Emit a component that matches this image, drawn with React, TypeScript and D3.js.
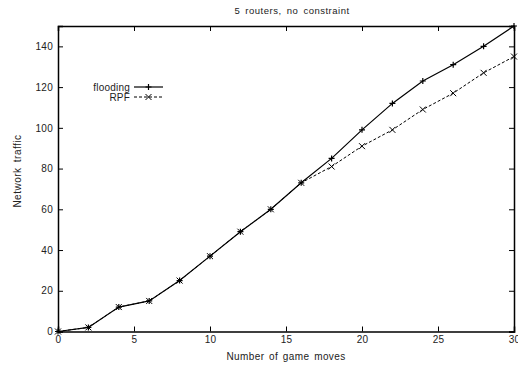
import React, { useEffect, useRef } from 'react'
import * as d3 from 'd3'

const moves = [0, 2, 4, 6, 8, 10, 12, 14, 16, 18, 20, 22, 24, 26, 28, 30]
const flooding = [0, 2, 12, 15, 25, 37, 49, 60, 73, 85, 99, 112, 123, 131, 140, 150]
const rpf = [0, 2, 12, 15, 25, 37, 49, 60, 73, 81, 91, 99, 109, 117, 127, 135]
const xTicks = [0, 5, 10, 15, 20, 25, 30]
const yTicks = [0, 20, 40, 60, 80, 100, 120, 140]

export default function App() {
  const ref = useRef<SVGSVGElement>(null)

  useEffect(() => {
    const svg = d3.select(ref.current)
    svg.selectAll('*').remove()
    const width = 518
    const height = 366
    const m = { top: 26, right: 4, bottom: 34.5, left: 58 }
    const font = 'Liberation Sans, Arial, sans-serif'
    const txt = '#222'

    const x = d3.scaleLinear().domain([0, 30]).range([m.left, width - m.right])
    const y = d3.scaleLinear().domain([0, 150]).range([height - m.bottom, m.top])

    const g = svg.append('g')

    // axes, ticks pointing inward on every side
    const tl = 5
    g.append('g').attr('transform', `translate(0,${y(0)})`)
      .call(d3.axisBottom(x).tickValues(xTicks).tickSize(-tl).tickPadding(4))
    g.append('g').attr('transform', `translate(0,${y(150)})`)
      .call(d3.axisTop(x).tickValues(xTicks).tickSize(-tl).tickFormat(() => ''))
    g.append('g').attr('transform', `translate(${x(0)},0)`)
      .call(d3.axisLeft(y).tickValues(yTicks).tickSize(-tl).tickPadding(5))
    g.append('g').attr('transform', `translate(${x(30)},0)`)
      .call(d3.axisRight(y).tickValues(yTicks).tickSize(-tl).tickFormat(() => ''))

    g.selectAll('.domain').attr('stroke', '#000').attr('stroke-width', 1.5)
    g.selectAll('.tick line').attr('stroke', '#000').attr('stroke-width', 1)
    g.selectAll('.tick text').attr('font-family', font).attr('font-size', 10)
      .attr('letter-spacing', 0.3).attr('fill', txt)

    const line = d3.line<number>().x((d, i) => x(moves[i])).y(d => y(d))

    const plus = (sel: any, px: number, py: number) => {
      sel.append('path').attr('d', `M${px - 3},${py}H${px + 3}M${px},${py - 3}V${py + 3}`)
        .attr('stroke', '#000').attr('stroke-width', 1.2)
    }
    const cross = (sel: any, px: number, py: number) => {
      sel.append('path').attr('d', `M${px - 3},${py - 3}L${px + 3},${py + 3}M${px - 3},${py + 3}L${px + 3},${py - 3}`)
        .attr('stroke', '#000').attr('stroke-width', 1)
    }

    g.append('path').datum(rpf).attr('d', line).attr('fill', 'none')
      .attr('stroke', '#000').attr('stroke-width', 1).attr('stroke-dasharray', '3,2')
    g.append('path').datum(flooding).attr('d', line).attr('fill', 'none')
      .attr('stroke', '#000').attr('stroke-width', 1.2)
    rpf.forEach((v, i) => cross(g, x(moves[i]), y(v)))
    flooding.forEach((v, i) => plus(g, x(moves[i]), y(v)))

    // legend
    const lx = 134, lw = 29
    const legend = [
      { name: 'flooding', dash: null, mark: plus, ly: 87 },
      { name: 'RPF', dash: '3,2', mark: cross, ly: 97 },
    ]
    legend.forEach(l => {
      g.append('text').attr('x', lx - 4).attr('y', l.ly).attr('dy', '0.35em')
        .attr('text-anchor', 'end').attr('font-family', font).attr('font-size', 10)
        .attr('letter-spacing', 0.2).attr('fill', txt).text(l.name)
      g.append('line').attr('x1', lx).attr('x2', lx + lw).attr('y1', l.ly).attr('y2', l.ly)
        .attr('stroke', '#000').attr('stroke-width', l.dash ? 1 : 1.2)
        .attr('stroke-dasharray', l.dash)
      l.mark(g, lx + lw / 2, l.ly)
    })

    // title and axis labels
    g.append('text').attr('x', 292).attr('y', 13.5).attr('text-anchor', 'middle')
      .attr('font-family', font).attr('font-size', 9.5).attr('fill', txt)
      .attr('letter-spacing', 0.5).attr('word-spacing', 2)
      .text('5 routers, no constraint')
    g.append('text').attr('x', 286).attr('y', 360).attr('text-anchor', 'middle')
      .attr('font-family', font).attr('font-size', 10).attr('fill', txt)
      .attr('letter-spacing', 0.4).attr('word-spacing', 1.5)
      .text('Number of game moves')
    g.append('text').attr('transform', `translate(21,171) rotate(-90)`)
      .attr('text-anchor', 'middle').attr('font-family', font).attr('font-size', 10)
      .attr('letter-spacing', 0.5).attr('word-spacing', 2)
      .attr('fill', txt).text('Network traffic')
  }, [])

  return (
    <svg ref={ref} width={518} height={366}
      style={{ position: 'absolute', left: 0, top: 0, background: '#fff' }} />
  )
}
